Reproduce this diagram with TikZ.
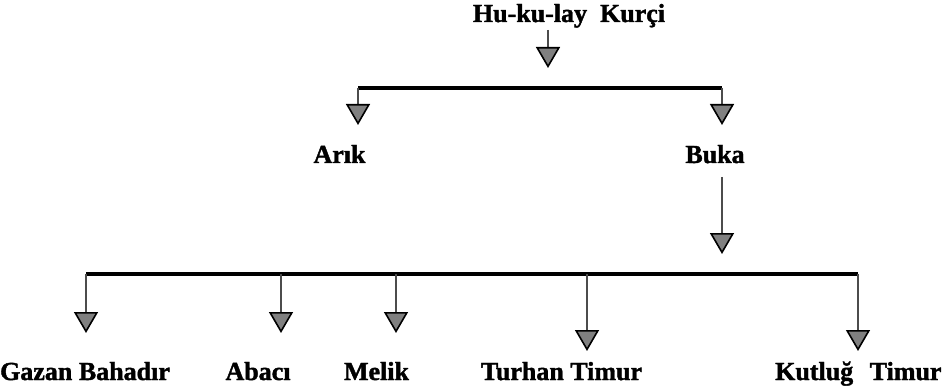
\documentclass[tikz,border=0pt]{standalone}
\usepackage{fontspec}
\setmainfont{Liberation Serif}[FakeBold=1.5]
\usetikzlibrary{arrows.meta}
\begin{document}
\begin{tikzpicture}[x=1pt,y=-1pt,
  lbl/.style={anchor=base,inner sep=0pt,font=\fontsize{26}{30}\selectfont\bfseries},
  bus/.style={line width=3.2pt,black},
  arr/.style={line width=2.6pt,black!70,-{Triangle[width=24pt,length=21pt,fill=black!50,line width=1.6pt,color=black]}},
]
\useasboundingbox (0,0) rectangle (944,390);
% texts
\node[lbl] (hk) at (569,22) {Hu-ku-lay\ \ Kurçi};
\node[lbl] (arik) at (339.5,163) {Arık};
\node[lbl] (buka) at (715,163) {Buka};
\node[lbl] (gazan) at (85,380) {Gazan Bahadır};
\node[lbl] (abaci) at (258,380) {Abacı};
\node[lbl] (melik) at (376.5,380) {Melik};
\node[lbl] (turhan) at (561.5,380) {Turhan Timur};
\node[lbl,anchor=base west] (kutlug) at (775,380) {Kutluğ\hspace{10pt} Timur};
% coordinates
\coordinate (t0) at (548,30);
\coordinate (t1) at (548,68);
\coordinate (b1l) at (358,88);
\coordinate (b1r) at (722,88);
\coordinate (a1) at (358,125);
\coordinate (a2) at (722,125);
\coordinate (k0) at (722,177);
\coordinate (k1) at (722,254);
\coordinate (b2l) at (86,274);
\coordinate (b2r) at (858,274);
\coordinate (g0) at (281,274);
\coordinate (m0) at (396,274);
\coordinate (u0) at (587,274);
\coordinate (g1) at (86,333);
\coordinate (ab1) at (281,333);
\coordinate (m1) at (396,333);
\coordinate (u1) at (587,351);
\coordinate (ku1) at (858,351);
% connectors
\draw[arr] (t0) -- (t1);
\draw[bus] (b1l) -- (b1r);
\draw[arr] (b1l) -- (a1);
\draw[arr] (b1r) -- (a2);
\draw[arr] (k0) -- (k1);
\draw[bus] (b2l) -- (b2r);
\draw[arr] (b2l) -- (g1);
\draw[arr] (g0) -- (ab1);
\draw[arr] (m0) -- (m1);
\draw[arr] (u0) -- (u1);
\draw[arr] (b2r) -- (ku1);
\end{tikzpicture}
\end{document}
